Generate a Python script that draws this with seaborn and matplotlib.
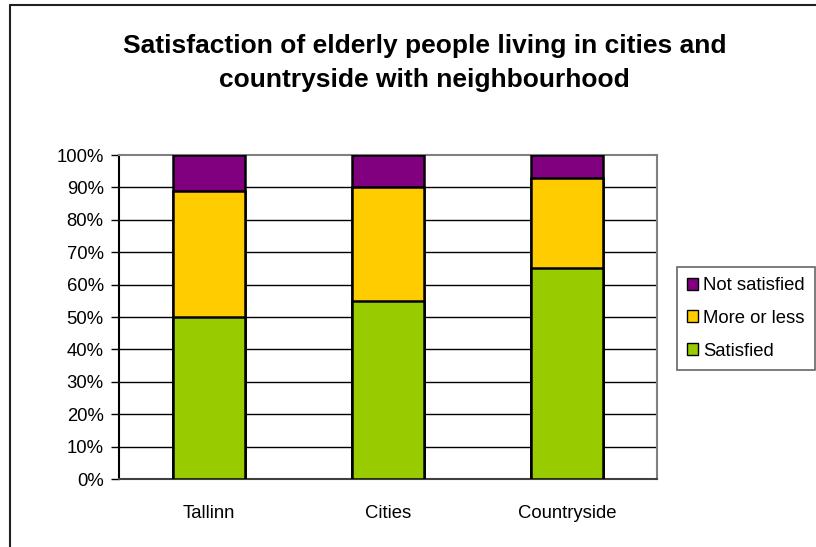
import matplotlib
matplotlib.use("Agg")
import matplotlib.pyplot as plt
import seaborn as sns
import numpy as np
import pandas as pd
from matplotlib.patches import Patch
from matplotlib.lines import Line2D

categories = ["Tallinn", "Cities", "Countryside"]
satisfied = [50, 55, 65]
more_or_less = [39, 35, 28]
not_satisfied = [11, 10, 7]
series_names = ["Satisfied", "More or less", "Not satisfied"]
series_colors = ["#99CC00", "#FFCC00", "#800080"]
yticks = [0, 10, 20, 30, 40, 50, 60, 70, 80, 90, 100]

sns.set_style("white")
plt.rcParams['font.family'] = ['Liberation Sans', 'DejaVu Sans']
plt.rcParams['text.color'] = 'black'
plt.rcParams['xtick.color'] = 'black'
plt.rcParams['ytick.color'] = 'black'

fig = plt.figure(figsize=(8.16, 5.47), dpi=100)
ax = fig.add_axes([119/816, 68/547, 538/816, 324/547])

layers = [satisfied, more_or_less, not_satisfied]
cum = np.cumsum(np.array(layers), axis=0)
for i in range(len(layers) - 1, -1, -1):
    df = pd.DataFrame({"cat": categories, "val": cum[i]})
    sns.barplot(data=df, x="cat", y="val", order=categories, color=series_colors[i],
                width=0.4, edgecolor="black", linewidth=1.8, ax=ax, saturation=1, zorder=3)

ax.set_ylim(0, 100)
ax.set_xlim(-0.5, 2.5)
ax.set_yticks(yticks)
ax.set_yticklabels([f"{v}%" for v in yticks], fontsize=13.3)
ax.set_xticks(range(len(categories)))
ax.set_xticklabels(categories, fontsize=13.3)
ax.set_xticks([-0.5, 0.5, 1.5, 2.5], minor=True)
ax.tick_params(axis="x", which="major", length=0, pad=19)
ax.tick_params(axis="x", which="minor", length=6, width=1, color="black", direction="out")
ax.tick_params(axis="y", which="major", length=6, width=1, color="black", direction="out", pad=5, left=True)
ax.set_xlabel("")
ax.set_ylabel("")
for v in yticks[1:-1]:
    ax.axhline(v, color="black", linewidth=1, zorder=1)
ax.spines["left"].set_color("black")
ax.spines["bottom"].set_color("#404040")
ax.spines["top"].set_color("#808080")
ax.spines["right"].set_color("#808080")
for s in ax.spines.values():
    s.set_linewidth(1.5)
    s.set_visible(True)

fig.text(0.52, 1 - 63/547, "Satisfaction of elderly people living in cities and\ncountryside with neighbourhood",
         ha="center", va="center", fontsize=19, fontweight="bold", linespacing=1.55, color="black")

handles = [Patch(facecolor=series_colors[i], edgecolor="black", linewidth=1, label=series_names[i])
           for i in [2, 1, 0]]
leg = fig.legend(handles=handles, loc="upper left", bbox_to_anchor=(677/816, 1 - 267/547),
                 fontsize=13.3, frameon=True, fancybox=False, edgecolor="#404040",
                 handlelength=0.6, handleheight=0.6, handletextpad=0.25, labelspacing=0.85,
                 borderpad=0.55, borderaxespad=0)
leg.get_frame().set_linewidth(1.2)

fig.lines.append(Line2D([9.5/816, 9.5/816], [0, 1 - 5/547], transform=fig.transFigure,
                        color="#202020", linewidth=1.5))
fig.lines.append(Line2D([9.5/816, 1], [1 - 5/547, 1 - 5/547], transform=fig.transFigure,
                        color="#202020", linewidth=1.5))

fig.savefig("out.png", dpi=100)
